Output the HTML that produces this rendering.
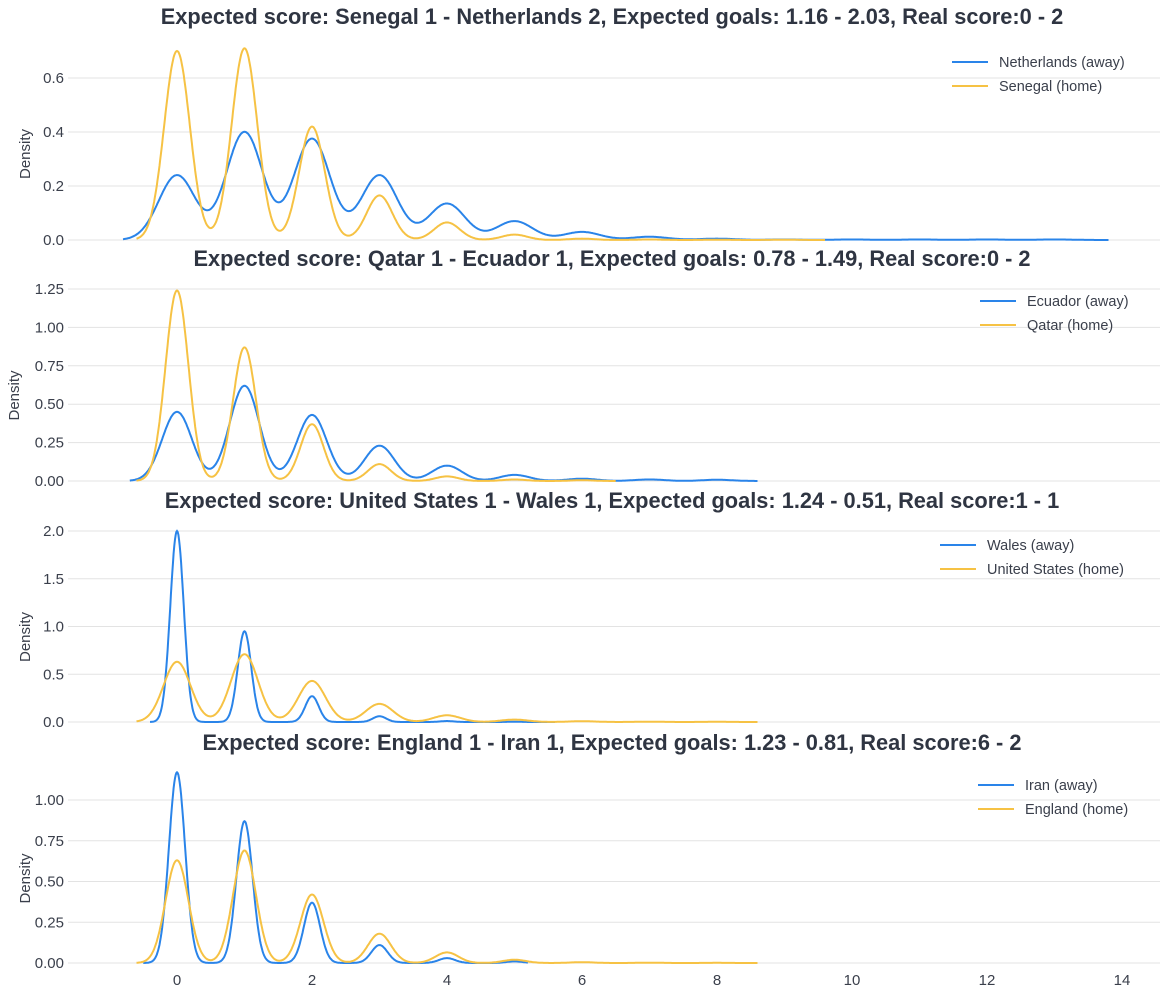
<!DOCTYPE html>
<html><head><meta charset="utf-8"><style>
body{margin:0;background:#fff;}
svg{display:block;font-family:"Liberation Sans",sans-serif;}
</style></head><body>
<svg id="chart" width="1167" height="993"></svg>
<script>
const xTicks=[0,2,4,6,8,10,12,14];
const titles=[
"Expected score: Senegal 1 - Netherlands 2, Expected goals: 1.16 - 2.03, Real score:0 - 2",
"Expected score: Qatar 1 - Ecuador 1, Expected goals: 0.78 - 1.49, Real score:0 - 2",
"Expected score: United States 1 - Wales 1, Expected goals: 1.24 - 0.51, Real score:1 - 1",
"Expected score: England 1 - Iran 1, Expected goals: 1.23 - 0.81, Real score:6 - 2"];
const awayNames=["Netherlands (away)","Ecuador (away)","Wales (away)","Iran (away)"];
const homeNames=["Senegal (home)","Qatar (home)","United States (home)","England (home)"];
const awayPeaks=[
[0.24,0.40,0.375,0.24,0.135,0.07,0.03,0.012,0.005,0.002,0.002,0.002,0.002,0.002],
[0.45,0.62,0.43,0.23,0.10,0.04,0.015,0.01,0.008],
[2.0,0.95,0.27,0.06,0.01,0.003],
[1.17,0.87,0.37,0.11,0.03,0.01]];
const homePeaks=[
[0.70,0.71,0.42,0.165,0.065,0.02,0.005,0.002,0.001,0.001],
[1.24,0.87,0.37,0.11,0.03,0.01,0.005],
[0.63,0.71,0.43,0.19,0.07,0.025,0.008,0.003,0.002],
[0.63,0.69,0.42,0.18,0.065,0.02,0.005,0.002,0.001]];
const awayRange=[[-0.8,13.8],[-0.7,8.6],[-0.4,5.6],[-0.5,5.2]];
const homeRange=[[-0.6,9.6],[-0.6,6.5],[-0.6,8.6],[-0.6,8.6]];
const yTickVals=[[0,0.2,0.4,0.6],[0,0.25,0.5,0.75,1.0,1.25],[0,0.5,1.0,1.5,2.0],[0,0.25,0.5,0.75,1.0]];
const yTickLabels=[["0.0","0.2","0.4","0.6"],["0.00","0.25","0.50","0.75","1.00","1.25"],["0.0","0.5","1.0","1.5","2.0"],["0.00","0.25","0.50","0.75","1.00"]];

const panels=[{y0:240,ppu:270,top:28,sa:0.27,sh:0.19,legY:62,legX:952},
{y0:481,ppu:153.6,top:270,sa:0.22,sh:0.17,legY:301,legX:980},
{y0:722,ppu:95.5,top:512,sa:0.1,sh:0.2,legY:545,legX:940},
{y0:963,ppu:163,top:754,sa:0.12,sh:0.17,legY:785,legX:978}];
const svg=document.getElementById('chart');
const NS='http://www.w3.org/2000/svg';
function el(t,a,p){const e=document.createElementNS(NS,t);for(const k in a)e.setAttribute(k,a[k]);(p||svg).appendChild(e);return e;}
const X=v=>177+v*67.5;
const BLUE="#2a84e9",YEL="#f6c244";
function dens(peaks,s,x){let d=0;peaks.forEach((p,k)=>{d+=p*Math.exp(-(x-k)*(x-k)/(2*s*s));});return d;}
panels.forEach((P,i)=>{
  const g=el('g',{});
  
  
  const Y=v=>P.y0-v*P.ppu;
  yTickVals[i].forEach((v,j)=>{
    const l=el('line',{x1:68,x2:1160,y1:Y(v),y2:Y(v),stroke:'#e3e3e3','stroke-width':1},g);
    
    
    const t=el('text',{x:64,y:Y(v)+5,'text-anchor':'end','font-size':15,fill:'#3a3f4b'},g);
    t.textContent=yTickLabels[i][j];
    
    
  });
  const yl=el('text',{x:0,y:0,'font-size':15,fill:'#3a3f4b','text-anchor':'middle',transform:`translate(${i==1?19:30},${(P.top+P.y0)/2+20}) rotate(-90)`},g);
  yl.textContent='Density';
  
  
  const tt=el('text',{x:612,y:P.top-4,'text-anchor':'middle','font-size':21.8,'font-weight':'bold',fill:'#2f3542'},g);
  tt.textContent=titles[i];
  
  
  [[awayPeaks[i],P.sa,awayRange[i],BLUE,'away-density-line'],[homePeaks[i],P.sh,homeRange[i],YEL,'home-density-line']].forEach(([pk,s,r,c,n])=>{
    let d='';
    for(let x=r[0];x<=r[1]+1e-9;x+=0.01){d+=(d?'L':'M')+X(x).toFixed(1)+','+Y(dens(pk,s,x)).toFixed(1);}
    const p=el('path',{d:d,fill:'none',stroke:c,'stroke-width':2},g);
    
    
  });
  [[awayNames[i],BLUE,0],[homeNames[i],YEL,24]].forEach(([nm,c,dy])=>{
    const lg=el('g',{},g);
    
    
    el('line',{x1:P.legX,x2:P.legX+36,y1:P.legY+dy,y2:P.legY+dy,stroke:c,'stroke-width':2},lg);
    const t=el('text',{x:P.legX+47,y:P.legY+dy+5,'font-size':14.5,fill:'#3a3f4b'},lg);
    t.textContent=nm;
  });
});
xTicks.forEach(v=>{
  const t=el('text',{x:X(v),y:985,'text-anchor':'middle','font-size':15,fill:'#3a3f4b'});
  t.textContent=v;
  
  
});
</script>
</body></html>
